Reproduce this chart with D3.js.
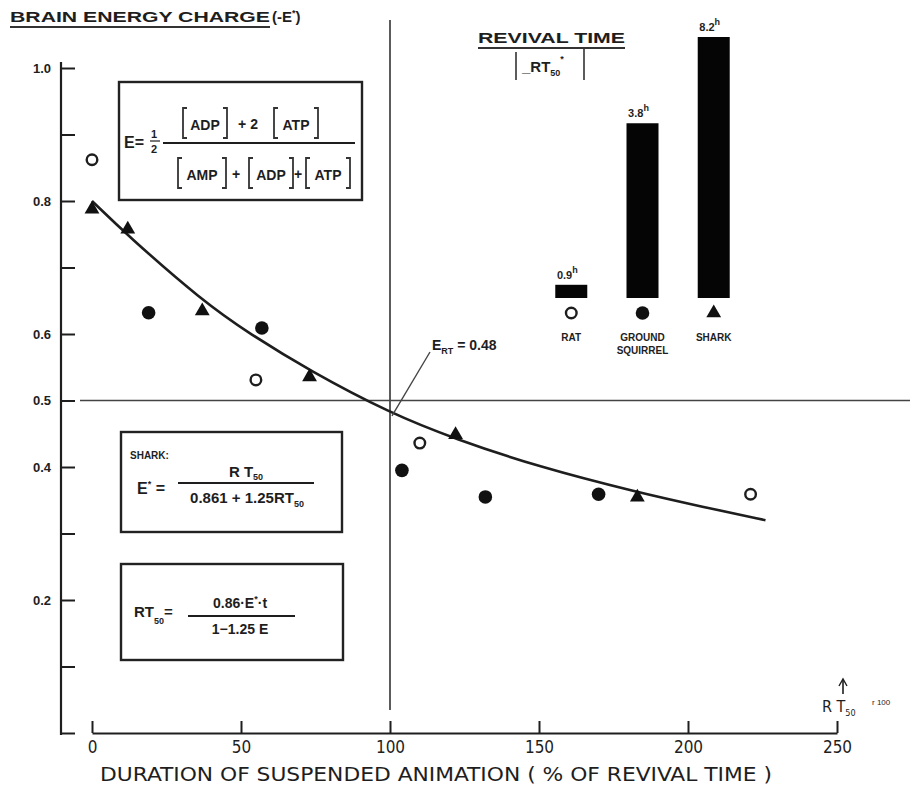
<!DOCTYPE html>
<html><head><meta charset="utf-8">
<script src="https://cdn.jsdelivr.net/npm/d3@7"></script>
<style>
html,body{margin:0;padding:0;background:#fff;}
svg{display:block;}
text{font-family:"Liberation Sans","Arial",sans-serif;fill:#1e1e1e;}
.narrow{font-family:"DejaVu Sans Condensed","Liberation Sans Narrow","Liberation Sans",sans-serif;}
</style></head>
<body>
<script>
// ---- data ----
const ratX = [0, 55, 110, 221];
const ratE = [0.862, 0.531, 0.436, 0.359];
const squirrelX = [19, 57, 104, 132, 170];
const squirrelE = [0.632, 0.609, 0.395, 0.355, 0.359];
const sharkX = [0, 12, 37, 73, 122, 183];
const sharkE = [0.789, 0.759, 0.636, 0.537, 0.450, 0.356];
const curveX = [0, 12, 37, 53, 73, 100, 122, 150, 183, 205, 226];
const curveE = [0.800, 0.748, 0.650, 0.600, 0.545, 0.481, 0.442, 0.400, 0.362, 0.340, 0.320];
const xTicks = [0, 50, 100, 150, 200, 250];
const yTicks = [0, 0.1, 0.2, 0.3, 0.4, 0.5, 0.6, 0.7, 0.8, 0.9, 1.0];
const yTickLabels = ["", "", "0.2", "", "0.4", "0.5", "0.6", "", "0.8", "", "1.0"];
const species = ["RAT", "GROUND SQUIRREL", "SHARK"];
const revivalHours = [0.9, 3.8, 8.2];
const revivalLabels = ["0.9", "3.8", "8.2"];
const ertValue = 0.48;

const W = 910, H = 790;
const svg = d3.select("body").append("svg").attr("width", W).attr("height", H);
const ink = "#1e1e1e";

const x = d3.scaleLinear().domain([0, 250]).range([92, 837]);
const y = d3.scaleLinear().domain([0, 1]).range([733, 68]);

// ---- axes ----
const yAxisX = 61;
const gy = svg.append("g").attr("transform", `translate(${yAxisX},0)`)
  .call(d3.axisLeft(y).tickValues(yTicks).tickSizeInner(-14).tickSizeOuter(0).tickPadding(8)
    .tickFormat((d, i) => yTickLabels[i]));
gy.select(".domain").remove();
gy.selectAll(".tick line").attr("stroke", ink).attr("stroke-width", 2);
gy.selectAll(".tick text").attr("font-size", 13).attr("font-weight", "bold").attr("fill", "#333").attr("dx", -2);
svg.append("line").attr("x1", yAxisX).attr("x2", yAxisX).attr("y1", 62).attr("y2", 735)
  .attr("stroke", ink).attr("stroke-width", 2.2);

const gx = svg.append("g").attr("transform", `translate(0,733)`)
  .call(d3.axisBottom(x).tickValues(xTicks).tickSizeInner(-12).tickSizeOuter(0).tickPadding(8));
gx.select(".domain").attr("stroke", ink).attr("stroke-width", 2);
gx.selectAll(".tick line").attr("stroke", ink).attr("stroke-width", 2);
gx.selectAll(".tick text").attr("class", "narrow").attr("font-size", 17).attr("fill", ink);

// ---- reference lines ----
svg.append("line").attr("x1", x(100)).attr("x2", x(100)).attr("y1", 20).attr("y2", 710)
  .attr("stroke", "#333").attr("stroke-width", 1.6);
svg.append("line").attr("x1", 80).attr("x2", 910).attr("y1", y(0.5)).attr("y2", y(0.5))
  .attr("stroke", "#444").attr("stroke-width", 1.6);

// ---- curve ----
const curvePts = curveX.map((d, i) => [x(d), y(curveE[i])]);
svg.append("path").attr("d", d3.line().curve(d3.curveBasis)(curvePts))
  .attr("fill", "none").attr("stroke", ink).attr("stroke-width", 2.6);

// ---- markers ----
const tri = d3.symbol().type(d3.symbolTriangle).size(95);
function drawOpen(g, cx, cy) {
  g.append("circle").attr("cx", cx).attr("cy", cy).attr("r", 5.3)
    .attr("fill", "#fff").attr("stroke", ink).attr("stroke-width", 2.4);
}
function drawFilled(g, cx, cy) {
  g.append("circle").attr("cx", cx).attr("cy", cy).attr("r", 6.8).attr("fill", "#111");
}
function drawTri(g, cx, cy) {
  g.append("path").attr("d", tri()).attr("transform", `translate(${cx},${cy + 1})`).attr("fill", "#111");
}
const gm = svg.append("g");
ratX.forEach((d, i) => drawOpen(gm, x(d), y(ratE[i])));
squirrelX.forEach((d, i) => drawFilled(gm, x(d), y(squirrelE[i])));
sharkX.forEach((d, i) => drawTri(gm, x(d), y(sharkE[i])));

// ---- E_RT annotation ----
svg.append("line").attr("x1", x(100) + 2).attr("y1", y(ertValue) + 2).attr("x2", 430).attr("y2", 352)
  .attr("stroke", "#444").attr("stroke-width", 1.4);
const ert = svg.append("text").attr("x", 432).attr("y", 350).attr("font-size", 14).attr("font-weight", "bold").attr("fill", "#333");
ert.append("tspan").text("E");
ert.append("tspan").attr("font-size", 9).attr("dy", 4).text("RT");
ert.append("tspan").attr("dy", -4).text(" = " + ertValue.toFixed(2));

// ---- titles ----
svg.append("text").attr("x", 10).attr("y", 22).attr("font-size", 15).attr("font-weight", "bold")
  .attr("textLength", 260).attr("lengthAdjust", "spacingAndGlyphs").attr("fill", "#333").text("BRAIN ENERGY CHARGE");
svg.append("line").attr("x1", 10).attr("x2", 270).attr("y1", 27).attr("y2", 27).attr("stroke", "#333").attr("stroke-width", 2);
const t2 = svg.append("text").attr("x", 272).attr("y", 22).attr("font-size", 15).attr("font-weight", "bold").attr("fill", "#333");
t2.append("tspan").text("(-E");
t2.append("tspan").attr("dy", -6).attr("font-size", 9).text("*");
t2.append("tspan").attr("dy", 6).text(")");

svg.append("text").attr("x", 478).attr("y", 43).attr("font-size", 15).attr("font-weight", "bold")
  .attr("textLength", 147).attr("lengthAdjust", "spacingAndGlyphs").attr("fill", "#333").text("REVIVAL TIME");
svg.append("line").attr("x1", 478).attr("x2", 625).attr("y1", 48).attr("y2", 48).attr("stroke", "#333").attr("stroke-width", 2);
svg.append("line").attr("x1", 516).attr("x2", 516).attr("y1", 52).attr("y2", 80).attr("stroke", "#333").attr("stroke-width", 1.6);
svg.append("line").attr("x1", 584).attr("x2", 584).attr("y1", 48).attr("y2", 80).attr("stroke", "#333").attr("stroke-width", 1.6);
const t3 = svg.append("text").attr("x", 522).attr("y", 72).attr("font-size", 15).attr("font-weight", "bold").attr("fill", "#333");
t3.append("tspan").text("_RT");
t3.append("tspan").attr("font-size", 9).attr("dy", 4).text("50");
t3.append("tspan").attr("font-size", 9).attr("dy", -14).text("*");

// ---- revival time bars ----
const bx = d3.scaleBand().domain(species).range([567, 718]).paddingInner(0.88).paddingOuter(0);
const by = d3.scaleLog().domain([0.8, 8.2]).range([298, 37]);
const bw = 32;
const bcx = d => bx(d) + bx.bandwidth() / 2;
svg.append("g").selectAll("rect").data(species).join("rect")
  .attr("x", d => bcx(d) - bw / 2).attr("width", bw)
  .attr("y", (d, i) => by(revivalHours[i])).attr("height", (d, i) => 298 - by(revivalHours[i]))
  .attr("fill", "#050505");
species.forEach((s, i) => {
  const t = svg.append("text").attr("x", bcx(s) - 4).attr("y", by(revivalHours[i]) - 6)
    .attr("text-anchor", "middle").attr("font-size", 11).attr("font-weight", "bold").attr("fill", "#444");
  t.append("tspan").text(revivalLabels[i]);
  t.append("tspan").attr("dy", -6).attr("font-size", 9).text("h");
});
drawOpen(svg, bcx(species[0]), 313);
drawFilled(svg, bcx(species[1]), 313);
drawTri(svg, bcx(species[2]), 312);
const labLines = [["RAT"], ["GROUND", "SQUIRREL"], ["SHARK"]];
species.forEach((s, i) => {
  labLines[i].forEach((l, j) => {
    svg.append("text").attr("x", bcx(s)).attr("y", 341 + j * 13).attr("text-anchor", "middle")
      .attr("font-size", 10).attr("font-weight", "bold").attr("fill", "#444").text(l);
  });
});

// ---- formula boxes ----
function box(x0, y0, x1, y1) {
  svg.append("rect").attr("x", x0).attr("y", y0).attr("width", x1 - x0).attr("height", y1 - y0)
    .attr("fill", "#fff").attr("stroke", "#222").attr("stroke-width", 2.4);
}
// box 1
box(119, 82, 362, 200);
const f1 = svg.append("g");
f1.append("text").attr("x", 124).attr("y", 148).attr("font-size", 16).attr("font-weight", "bold").text("E=");
f1.append("text").attr("x", 151).attr("y", 138).attr("font-size", 11).attr("font-weight", "bold").text("1");
f1.append("line").attr("x1", 150).attr("x2", 160).attr("y1", 141).attr("y2", 141).attr("stroke", ink).attr("stroke-width", 1.2);
f1.append("text").attr("x", 151).attr("y", 153).attr("font-size", 11).attr("font-weight", "bold").text("2");
f1.append("line").attr("x1", 163).attr("x2", 355).attr("y1", 143).attr("y2", 143).attr("stroke", ink).attr("stroke-width", 2);
function brTerm(g, cx, yb, w, label) {
  const h = 30, top = yb - 22;
  g.append("path").attr("d", `M${cx - w / 2 + 4},${top} h-4 v${h} h4`).attr("fill", "none").attr("stroke", "#333").attr("stroke-width", 1.8);
  g.append("path").attr("d", `M${cx + w / 2 - 4},${top} h4 v${h} h-4`).attr("fill", "none").attr("stroke", "#333").attr("stroke-width", 1.8);
  g.append("text").attr("x", cx).attr("y", yb).attr("text-anchor", "middle").attr("font-size", 14).attr("font-weight", "bold").text(label);
}
brTerm(f1, 205, 130, 44, "ADP");
f1.append("text").attr("x", 248).attr("y", 129).attr("text-anchor", "middle").attr("font-size", 14).attr("font-weight", "bold").text("+ 2");
brTerm(f1, 296, 130, 44, "ATP");
brTerm(f1, 202, 180, 48, "AMP");
f1.append("text").attr("x", 236).attr("y", 179).attr("text-anchor", "middle").attr("font-size", 14).attr("font-weight", "bold").text("+");
brTerm(f1, 271, 180, 44, "ADP");
f1.append("text").attr("x", 298).attr("y", 179).attr("text-anchor", "middle").attr("font-size", 14).attr("font-weight", "bold").text("+");
brTerm(f1, 328, 180, 44, "ATP");

// box 2 (shark)
box(121, 432, 342, 532);
const f2 = svg.append("g");
f2.append("text").attr("x", 130).attr("y", 459).attr("font-size", 10).attr("font-weight", "bold").attr("fill", "#333").text("SHARK:");
const e2 = f2.append("text").attr("x", 137).attr("y", 494).attr("font-size", 16).attr("font-weight", "bold");
e2.append("tspan").text("E");
e2.append("tspan").attr("dy", -7).attr("font-size", 9).text("*");
e2.append("tspan").attr("dy", 7).text(" =");
f2.append("line").attr("x1", 178).attr("x2", 314).attr("y1", 483).attr("y2", 483).attr("stroke", ink).attr("stroke-width", 2);
const n2 = f2.append("text").attr("x", 246).attr("y", 477).attr("text-anchor", "middle").attr("font-size", 15).attr("font-weight", "bold");
n2.append("tspan").text("R T");
n2.append("tspan").attr("font-size", 9).attr("dy", 3).text("50");
const d2 = f2.append("text").attr("x", 247).attr("y", 503).attr("text-anchor", "middle").attr("font-size", 15).attr("font-weight", "bold");
d2.append("tspan").text("0.861 + 1.25RT");
d2.append("tspan").attr("font-size", 9).attr("dy", 4).text("50");

// box 3
box(121, 564, 343, 660);
const f3 = svg.append("g");
const r3 = f3.append("text").attr("x", 134).attr("y", 617).attr("font-size", 15).attr("font-weight", "bold");
r3.append("tspan").text("RT");
r3.append("tspan").attr("font-size", 9).attr("dy", 7).text("50");
r3.append("tspan").attr("dy", -7).text("=");
f3.append("line").attr("x1", 188).attr("x2", 295).attr("y1", 616).attr("y2", 616).attr("stroke", ink).attr("stroke-width", 2);
const n3 = f3.append("text").attr("x", 240).attr("y", 608).attr("text-anchor", "middle").attr("font-size", 14).attr("font-weight", "bold");
n3.append("tspan").text("0.86·E");
n3.append("tspan").attr("font-size", 9).attr("dy", -6).text("*");
n3.append("tspan").attr("dy", 6).text("·t");
f3.append("text").attr("x", 240).attr("y", 634).attr("text-anchor", "middle").attr("font-size", 14).attr("font-weight", "bold").text("1−1.25 E");

// ---- RT50 marker at lower right ----
svg.append("line").attr("x1", 843).attr("x2", 843).attr("y1", 680).attr("y2", 694).attr("stroke", ink).attr("stroke-width", 1.6);
svg.append("path").attr("d", "M839,686 L843,679 L847,686").attr("fill", "none").attr("stroke", ink).attr("stroke-width", 1.4);
const rt = svg.append("text").attr("x", 822).attr("y", 712).attr("class", "narrow").attr("font-size", 16).attr("fill", ink);
rt.append("tspan").text("R T");
rt.append("tspan").attr("font-size", 9).attr("dy", 4).text("50");
svg.append("text").attr("x", 872).attr("y", 705).attr("font-size", 8).attr("fill", "#666").text("r 100");

// ---- x axis title ----
svg.append("text").attr("x", 100).attr("y", 781).attr("class", "narrow").attr("font-size", 19).attr("fill", ink)
  .attr("textLength", 672).attr("lengthAdjust", "spacingAndGlyphs")
  .text("DURATION  OF  SUSPENDED  ANIMATION   ( % OF REVIVAL TIME )");
</script>
</body></html>
